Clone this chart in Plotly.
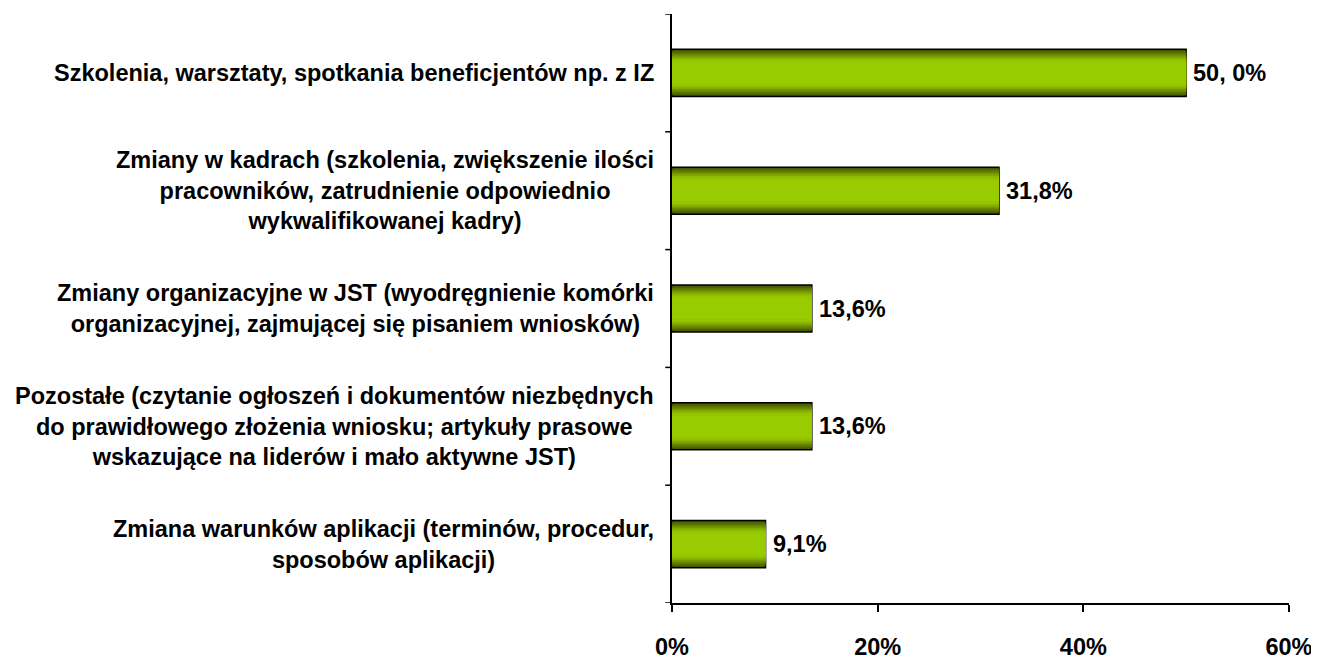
import plotly.graph_objects as go

categories = [
    "Szkolenia, warsztaty, spotkania beneficjentów np. z IZ",
    "Zmiany w kadrach (szkolenia, zwiększenie ilości<br>pracowników, zatrudnienie odpowiednio<br>wykwalifikowanej kadry)",
    "Zmiany organizacyjne w JST (wyodręgnienie komórki<br>organizacyjnej, zajmującej się pisaniem wniosków)",
    "Pozostałe (czytanie ogłoszeń i dokumentów niezbędnych<br>do prawidłowego złożenia wniosku; artykuły prasowe<br>wskazujące na liderów i mało aktywne JST)",
    "Zmiana warunków aplikacji (terminów, procedur,<br>sposobów aplikacji)",
]
values = [50.0, 31.8, 13.6, 13.6, 9.1]
value_labels = ["50, 0%", "31,8%", "13,6%", "13,6%", "9,1%"]
x_ticks = [0, 20, 40, 60]
x_tick_labels = ["0%", "20%", "40%", "60%"]

FONT = "Liberation Sans"
FS = 23.5
ids = list(range(len(categories)))

fig = go.Figure()

# gradient simulation: dark edges -> bright centre
shades = ["#435300", "#4f6300", "#5b7300", "#688500", "#759700", "#81a900", "#8cb900", "#94c500", "#99cc00"]
widths = [0.4, 0.375, 0.35, 0.325, 0.3, 0.275, 0.25, 0.225, 0.18]
for i, (c, w) in enumerate(zip(shades, widths)):
    outer = i == 0
    fig.add_trace(go.Bar(
        y=ids, x=values, orientation="h", width=w,
        marker=dict(color=c, line=dict(color="black", width=1.5 if outer else 0)),
        hoverinfo="skip" if not outer else None,
        showlegend=False,
    ))

for i, (v, lab) in enumerate(zip(values, value_labels)):
    fig.add_annotation(
        x=v, xref="x", xanchor="left", xshift=5,
        y=i, yref="y", yanchor="middle",
        text=lab, showarrow=False,
        font=dict(family=FONT, size=FS, color="black", weight="bold"),
    )

for i, cat in enumerate(categories):
    fig.add_annotation(
        x=0, xref="paper", xanchor="right", xshift=-16,
        y=i, yref="y", yanchor="middle",
        text=cat, align="center", showarrow=False,
        font=dict(family=FONT, size=FS, color="black", weight="bold"),
    )

fig.update_layout(
    width=1319, height=658,
    margin=dict(l=664, r=38, t=6, b=53),
    paper_bgcolor="white", plot_bgcolor="white",
    barmode="overlay",
    font=dict(family=FONT, size=FS, color="black"),
    xaxis=dict(
        range=[0, 60], tickvals=x_ticks, ticktext=x_tick_labels,
        showgrid=False, zeroline=False, showline=True, linecolor="black", linewidth=1.5,
        ticks="outside", ticklen=7, tickwidth=1.5, tickcolor="black",
        tickfont=dict(family=FONT, size=FS, color="black", weight="bold"),
        ticklabelstandoff=15,
    ),
    yaxis=dict(
        tickvals=ids, range=[4.5, -0.5], showticklabels=False,
        showgrid=False, zeroline=False, showline=True, linecolor="black", linewidth=1.5,
        ticks="",
    ),
)

# boundary ticks on the y axis
for k in range(len(categories) + 1):
    fig.add_shape(type="line", xref="paper", yref="y", x0=-0.011, x1=0, y0=k - 0.5, y1=k - 0.5,
                  line=dict(color="black", width=1.5))

fig.write_html("out.html")
